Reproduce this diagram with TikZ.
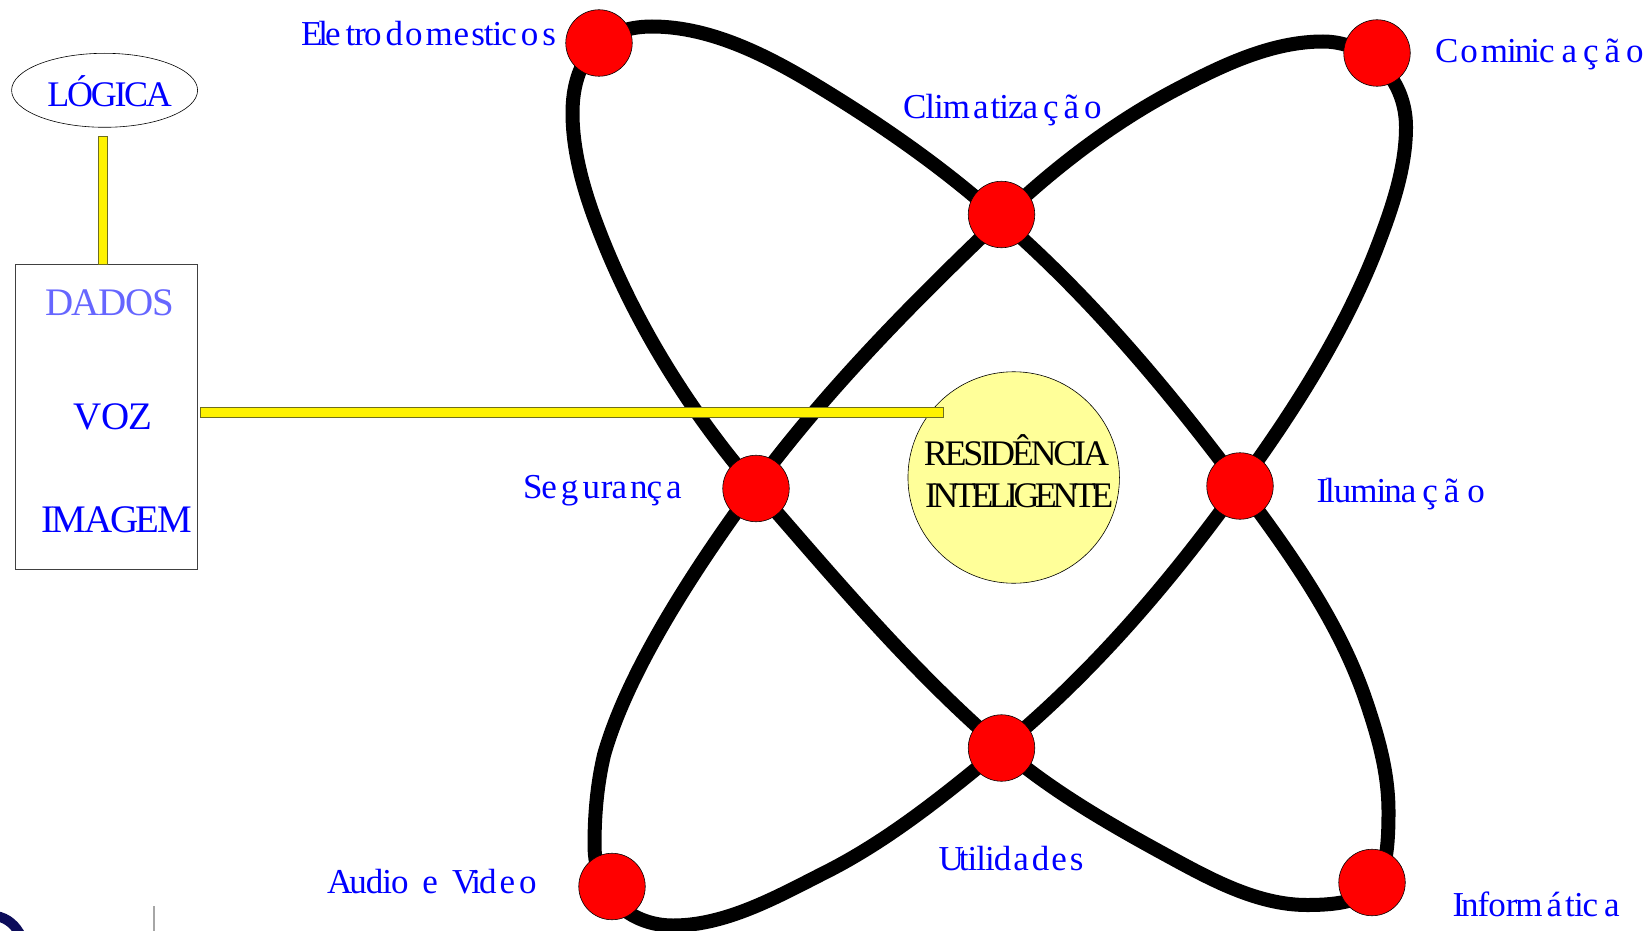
\documentclass[tikz,border=0pt]{standalone}
\usepackage{fontspec}
\setmainfont{Liberation Serif}
\usetikzlibrary{shapes.geometric}
\newcommand{\K}[1]{\kern#1pt\relax}
\definecolor{txtblue}{RGB}{0,0,255}
\definecolor{dadosblue}{RGB}{102,102,255}
\definecolor{paleyellow}{RGB}{255,255,153}
\definecolor{barline}{RGB}{110,110,30}
\definecolor{navyblob}{RGB}{12,12,90}
\tikzset{
  hub/.style={circle,draw=black,line width=0.6pt,fill=red,minimum size=66.5pt,inner sep=0pt},
  orbit/.style={line width=14pt,black,line join=round},
  lbl/.style={anchor=base west,inner sep=0pt,outer sep=0pt,text=txtblue,font=\fontsize{35}{40}\selectfont},
  caps/.style={anchor=base west,inner sep=0pt,outer sep=0pt,text=txtblue,font=\fontsize{36}{40}\selectfont},
  bar/.style={rectangle,draw=barline,line width=0.8pt,fill=yellow,inner sep=0pt,anchor=north west}
}
\begin{document}
\begin{tikzpicture}[x=1pt,y=-1pt]
\useasboundingbox (0,0) rectangle (1648,931);
\clip (0,0) rectangle (1648,931);
\fill[white] (0,0) rectangle (1648,931);

% orbits
\draw[orbit] (652,26.5)
 .. controls (713,26.5) and (772,58) .. (824,90)
 .. controls (886,128) and (947.5,171) .. (1001.5,220)
 .. controls (1091,298) and (1168,390) .. (1240,486)
 .. controls (1289,552) and (1338,620) .. (1365,698)
 .. controls (1378,736) and (1388.5,772) .. (1388.5,812)
 .. controls (1388.5,885) and (1377,905) .. (1307,905)
 .. controls (1257,905) and (1210,879) .. (1166,855)
 .. controls (1110,824.5) and (1050,790) .. (1001.5,748)
 .. controls (911,670) and (834,578) .. (756,488.5)
 .. controls (687.5,409) and (630,316) .. (594,217)
 .. controls (582,184) and (572.5,148) .. (572.5,113)
 .. controls (572.5,60) and (600,26.5) .. cycle;
\draw[orbit] (1323,41.5)
 .. controls (1273,41.5) and (1225,64) .. (1181,87)
 .. controls (1115,121) and (1055,167) .. (1001.5,218)
 .. controls (913.5,302) and (829,387) .. (756,485)
 .. controls (697,565) and (628,670) .. (604,755)
 .. controls (597,785) and (594.5,815) .. (594.5,845)
 .. controls (594.5,895) and (630,925.5) .. (673,925.5)
 .. controls (726,925.5) and (776.6,897) .. (824,873)
 .. controls (888,841) and (946,794) .. (1001.5,748)
 .. controls (1092.5,673) and (1171,581) .. (1240,485)
 .. controls (1293,412) and (1343,334) .. (1376,250)
 .. controls (1391,211) and (1406,169) .. (1406,127)
 .. controls (1406,75) and (1365,41.5) .. cycle;

% hubs
\node[hub] (eletro) at (599,43) {};
\node[hub] (clima) at (1001.5,214.5) {};
\node[hub] (comun) at (1377,53) {};
\node[hub] (segur) at (756,488.5) {};
\node[hub] (ilum) at (1240,486) {};
\node[hub] (audio) at (612,886.5) {};
\node[hub] (util) at (1001.5,748) {};
\node[hub] (info) at (1372,882.5) {};

% centre
\node[circle,draw=black,line width=0.6pt,fill=paleyellow,minimum size=211.5pt,inner sep=0pt] (centre) at (1013.7,477.5) {};

% left blocks
\node[ellipse,draw=black,line width=0.6pt,minimum width=186pt,minimum height=74pt,inner sep=0pt] (logica) at (104.6,90.3) {};
\node[rectangle,draw=black!75,line width=0.8pt,minimum width=181.8pt,minimum height=305pt,inner sep=0pt] (dados) at (106.1,416.8) {};

% yellow bars
\node[bar,minimum width=8.9pt,minimum height=128pt] (barv) at (98.3,136.3) {};
\node[bar,minimum width=743pt,minimum height=10pt] (barh) at (200.2,407.3) {};

% left block texts
\node[caps] (tlog) at (47.3,106.5) {\addfontfeature{LetterSpace=-6.3}LÓGICA};
\node[anchor=base west,inner sep=0pt,text=dadosblue,font=\fontsize{39}{42}\selectfont] (tdad) at (45,315.5) {\addfontfeature{LetterSpace=-3.7}DADOS};
\node[caps,font=\fontsize{39}{42}\selectfont] (tvoz) at (73.6,429.5) {\addfontfeature{LetterSpace=-1.6}VOZ};
\node[caps,font=\fontsize{39}{42}\selectfont] (timg) at (41,532) {\addfontfeature{LetterSpace=-5.8}IMAGEM};

% centre texts
\node[caps,text=black] (tres) at (923.8,465.6) {\addfontfeature{LetterSpace=-8.9}RESIDÊNCIA};
\node[caps,text=black] (tint) at (925,507.7) {\addfontfeature{LetterSpace=-12.7}INTELIGENTE};

% hub labels
\node[lbl] (leletro) at (301,46) {E\K{-4}l\K{-3}e\K{5}t\K{-1}r\K{-2}o\K{4}d\K{2}o\K{3}m\K{1}e\K{2}s\K{-1}t\K{-1}i\K{-1}c\K{4}o\K{4}s};
\node[lbl] (lclima) at (903,118.5) {C\K{-1}l\K{-1}i\K{-1}m\K{3}a\K{2}t\K{-1}i\K{-1}z\K{-1}a\K{5}ç\K{5}ã\K{5}o};
\node[lbl] (lcomun) at (1435,62.5) {C\K{2}o\K{3}m\K{-1}i\K{-2}n\K{-2}i\K{-1}c\K{7}a\K{6}ç\K{6}ã\K{6}o};
\node[lbl] (lsegur) at (523,498.5) {S\K{-1}e\K{4}g\K{4}u\K{1}r\K{-1}a\K{3}n\K{-1}ç\K{4}a};
\node[lbl] (lilum) at (1316.5,502.5) {I\K{-3}l\K{-1}u\K{-1}m\K{-1}i\K{-2}n\K{-1}a\K{6}ç\K{6}ã\K{8}o};
\node[lbl] (laudio) at (327,893.5) {A\K{-3}u\K{-1}d\K{-1}i\K{-1}o\K{14}e\K{14}V\K{-6}i\K{-2}d\K{3}e\K{4}o};
\node[lbl] (lutil) at (938.6,870) {U\K{-5}t\K{-1}i\K{-1}l\K{-1}i\K{-1}d\K{2}a\K{3}d\K{2}e\K{3}s};
\node[lbl] (linfo) at (1452.5,916.5) {I\K{-3}n\K{-1}f\K{-1}o\K{0}r\K{-2}m\K{4}á\K{3}t\K{-1}i\K{-1}c\K{6}a};

% cropped fragments at the lower left
\draw[navyblob,line width=10pt] (-4,916) .. controls (8,918) and (16,926) .. (21,936);
\draw[black!35,line width=1.2pt] (154,906) -- (154,931);
\end{tikzpicture}
\end{document}
